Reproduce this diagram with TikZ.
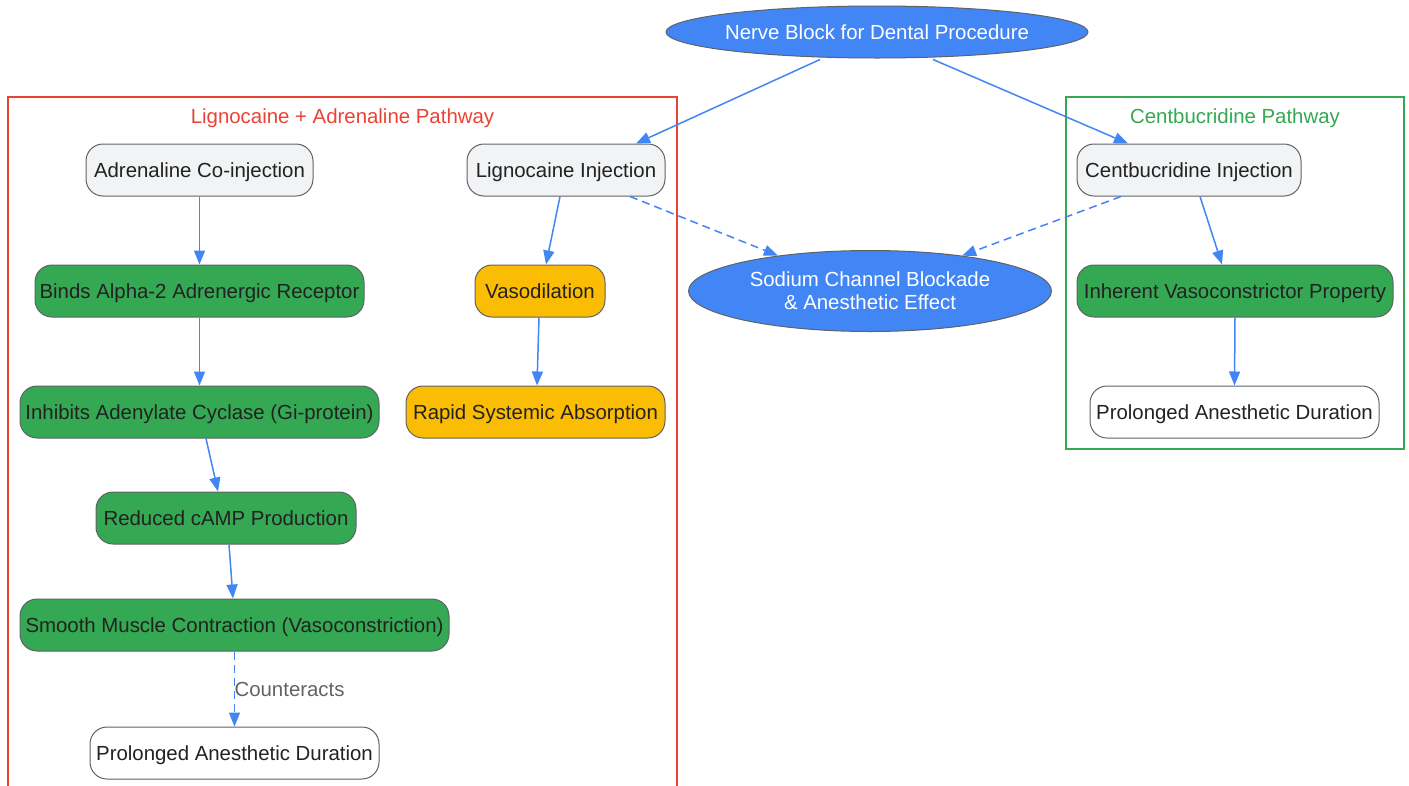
\documentclass[tikz,border=0pt]{standalone}
\usepackage{fontspec}
\setmainfont{Liberation Sans}
\usetikzlibrary{shapes.geometric,arrows.meta}
\definecolor{gblue}{HTML}{4285F4}
\definecolor{ggreen}{HTML}{34A853}
\definecolor{gyellow}{HTML}{FBBC04}
\definecolor{gred}{HTML}{EA4335}
\definecolor{ggray}{HTML}{F1F3F4}
\definecolor{gborder}{HTML}{5F6368}
\definecolor{gtext}{HTML}{222222}
\definecolor{glabel}{HTML}{5F6368}
\begin{document}
\begin{tikzpicture}[x=1pt,y=-1pt,
  every node/.style={font=\fontsize{20.4}{23}\selectfont, text height=16pt, text depth=2pt},
  box/.style={draw=gborder, line width=1pt, rounded corners=17pt, minimum height=52pt, inner sep=0pt, text=gtext, minimum width=#1},
  graybox/.style={box=#1, fill=ggray},
  greenbox/.style={box=#1, fill=ggreen},
  yellowbox/.style={box=#1, fill=gyellow},
  whitebox/.style={box=#1, fill=white},
  oval/.style={ellipse, draw=gborder, line width=1pt, fill=gblue, text=white, inner xsep=-30pt, inner ysep=-10pt, align=center},
  arr/.style={draw=gblue, line width=1.5pt, -{Triangle[length=14pt,width=11pt]}},
  darr/.style={arr, dash pattern=on 8pt off 5pt},
  cluster/.style={line width=1.3pt}
]
\useasboundingbox (0,0) rectangle (1409,785);

% clusters
\draw[cluster, draw=gred] (8,790) -- (8,97) -- (677,97) -- (677,790);
\node[text=gred] (redtitle) at (342.5,116) {Lignocaine + Adrenaline Pathway};
\draw[cluster, draw=ggreen] (1066,97) rectangle (1404,449);
\node[text=ggreen] (greentitle) at (1235,116) {Centbucridine Pathway};

% nodes
\node[oval, minimum width=422pt, minimum height=52pt] (top) at (877,32) {Nerve Block for Dental Procedure};
\node[oval, minimum width=363pt, minimum height=81pt, text height=, text depth=] (sod) at (870,291) {Sodium Channel Blockade\\\& Anesthetic Effect};

\node[graybox=227pt] (adr) at (199.5,170) {Adrenaline Co-injection};
\node[graybox=198pt] (lig) at (566,170) {Lignocaine Injection};
\node[graybox=224pt] (cent) at (1189,170) {Centbucridine Injection};

\node[greenbox=329pt] (binds) at (199.5,291) {Binds Alpha-2 Adrenergic Receptor};
\node[yellowbox=130pt] (vaso) at (540,291) {Vasodilation};
\node[greenbox=316pt] (inh) at (1235,291) {Inherent Vasoconstrictor Property};

\node[greenbox=359pt] (inhib) at (199.5,412) {Inhibits Adenylate Cyclase (Gi-protein)};
\node[yellowbox=259pt] (rapid) at (535.5,412) {Rapid Systemic Absorption};
\node[whitebox=289pt] (prolR) at (1234.5,412) {Prolonged Anesthetic Duration};

\node[greenbox=260pt] (red) at (226,518) {Reduced cAMP Production};
\node[greenbox=429pt] (smooth) at (234.5,625) {Smooth Muscle Contraction (Vasoconstriction)};
\node[whitebox=289pt] (prolL) at (234.5,753) {Prolonged Anesthetic Duration};

% edges
\draw[arr] ([xshift=-57pt,yshift=-1pt]top.south) -- ([xshift=70pt]lig.north);
\draw[arr] ([xshift=56pt,yshift=-1pt]top.south) -- ([xshift=-61pt]cent.north);
\draw[darr] ([xshift=64pt]lig.south) -- (sod.159);
\draw[darr] ([xshift=-68pt]cent.south) -- (sod.21);
\draw[arr] (adr.south) -- (binds.north);
\draw[arr] ([xshift=-6pt]lig.south) -- ([xshift=6pt]vaso.north);
\draw[arr] ([xshift=-1pt]vaso.south) -- ([xshift=1.5pt]rapid.north);
\draw[arr] (binds.south) -- (inhib.north);
\draw[arr] ([xshift=6.5pt]inhib.south) -- ([xshift=-8pt]red.north);
\draw[arr] ([xshift=3pt]red.south) -- ([xshift=-1.5pt]smooth.north);
\draw[darr] (smooth.south) -- node[anchor=west, xshift=-4pt, text=glabel] (clabel) {Counteracts} (prolL.north);
\draw[arr] ([xshift=11pt]cent.south) -- ([xshift=-13pt]inh.north);
\draw[arr] (inh.south) -- (prolR.north);
\end{tikzpicture}
\end{document}
